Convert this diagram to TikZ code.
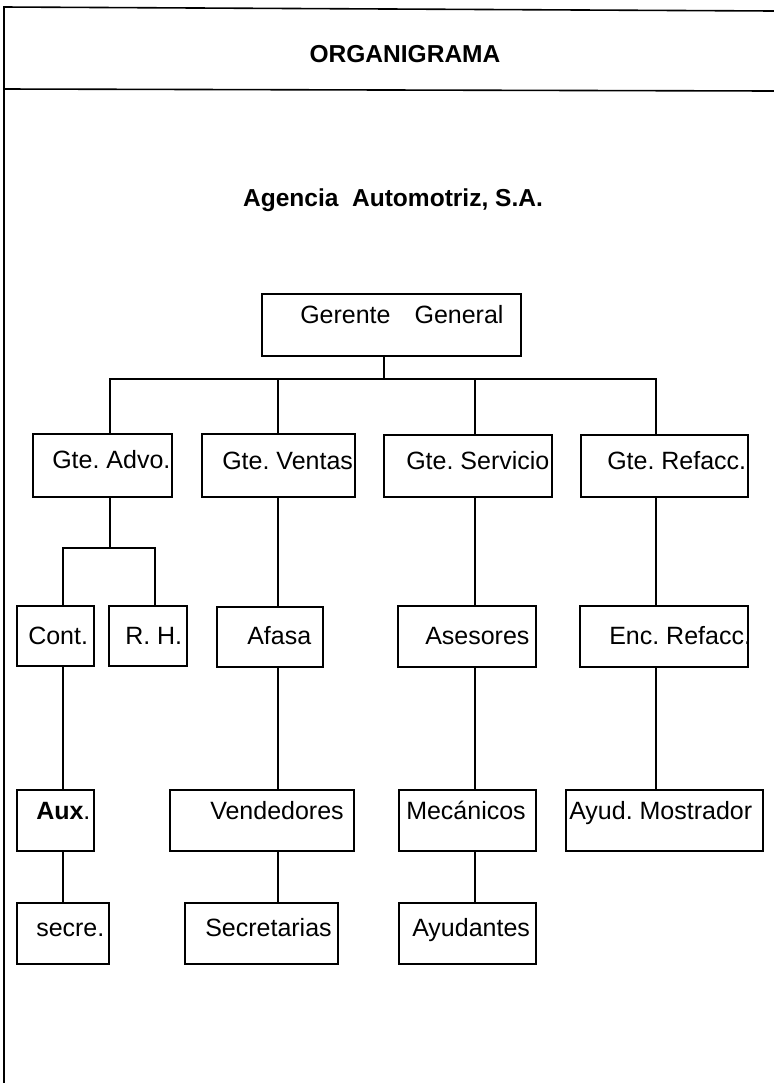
\documentclass[tikz,border=0pt]{standalone}
\usepackage{fontspec}
\setmainfont{Liberation Sans}
\usetikzlibrary{fit}
\frenchspacing
\tikzset{
  bx/.style={draw, line width=1.2pt, inner sep=0pt},
  lbl/.style={anchor=base west, inner sep=0pt, font=\frenchspacing\fontsize{18.75pt}{22pt}\selectfont},
  ttl/.style={anchor=base, inner sep=0pt, font=\frenchspacing\bfseries\fontsize{18.4pt}{22pt}\selectfont},
  ln/.style={line width=1.2pt},
}
\newcommand\orgbox[8]{%
  \node[bx, fit={(#2,#3) (#4,#5)}] (#1) {};
  \node[lbl] (#1t) at (#6,#7) {#8};}
\begin{document}
\begin{tikzpicture}[x=0.75pt,y=-0.75pt]
\useasboundingbox (0,0) rectangle (774,1083);
% frame
\coordinate (fTL) at (4,7);
\coordinate (fTR) at (774,11);
\coordinate (fHL) at (4,89);
\coordinate (fHR) at (774,91);
\coordinate (fBL) at (4,1083);
\draw[ln] (fTR) -- (fTL) -- (fBL);
\draw[ln] (fHL) -- (fHR);
% titles
\node[ttl] (title) at (405,62) {ORGANIGRAMA};
\node[ttl] (company) at (393,206) {Agencia\ \ Automotriz, S.A.};
% boxes
\orgbox{ger}{262}{294}{521}{356}{300}{323}{Gerente\hspace{18pt}General}
\orgbox{adv}{33}{434}{172}{497}{52}{468}{Gte. Advo.}
\orgbox{ven}{202}{434}{355}{497}{222}{469}{Gte. Ventas}
\orgbox{ser}{384}{435}{552}{497}{406}{469}{Gte. Servicio}
\orgbox{ref}{581}{435}{748}{497}{607}{469}{Gte. Refacc.}
\orgbox{con}{17}{606}{94}{666}{28}{644}{Cont.}
\orgbox{rh}{109}{606}{187}{666}{125}{644}{R. H.}
\orgbox{afa}{217}{607}{323}{667}{247}{644}{Afasa}
\orgbox{ase}{398}{606}{536}{667}{425}{644}{Asesores}
\orgbox{enc}{580}{606}{748}{667}{609}{644}{Enc. Refacc.}
\orgbox{aux}{17}{790}{94}{851}{36}{819}{\textbf{Aux}.}
\orgbox{vnd}{170}{790}{354}{851}{210}{819}{Vendedores}
\orgbox{mec}{399}{790}{536}{851}{406}{819}{Mecánicos}
\orgbox{ayd}{566}{790}{763}{851}{569}{819}{Ayud. Mostrador}
\orgbox{sec}{17}{903}{109}{964}{36}{936}{secre.}
\orgbox{scr}{185}{903}{338}{964}{205}{936}{Secretarias}
\orgbox{ayu}{399}{903}{536}{964}{412}{936}{Ayudantes}
% junctions
\coordinate (j0) at (384,379);
\coordinate (b1) at (110,379);
\coordinate (b2) at (278,379);
\coordinate (b3) at (475,379);
\coordinate (b4) at (656,379);
\coordinate (j1) at (110,548);
\coordinate (s1) at (63,548);
\coordinate (s2) at (155,548);
% connectors
\draw[ln] (ger.south -| j0) -- (j0);
\draw[ln] (adv.north -| b1) -- (b1) -- (b4) -- (ref.north -| b4);
\draw[ln] (b2) -- (ven.north -| b2);
\draw[ln] (b3) -- (ser.north -| b3);
\draw[ln] (adv.south -| j1) -- (j1);
\draw[ln] (con.north -| s1) -- (s1) -- (s2) -- (rh.north -| s2);
\draw[ln] (con.south -| s1) -- (aux.north -| s1);
\draw[ln] (aux.south -| s1) -- (sec.north -| s1);
\draw[ln] (ven.south -| b2) -- (afa.north -| b2);
\draw[ln] (afa.south -| b2) -- (vnd.north -| b2);
\draw[ln] (vnd.south -| b2) -- (scr.north -| b2);
\draw[ln] (ser.south -| b3) -- (ase.north -| b3);
\draw[ln] (ase.south -| b3) -- (mec.north -| b3);
\draw[ln] (mec.south -| b3) -- (ayu.north -| b3);
\draw[ln] (ref.south -| b4) -- (enc.north -| b4);
\draw[ln] (enc.south -| b4) -- (ayd.north -| b4);
\end{tikzpicture}
\end{document}
